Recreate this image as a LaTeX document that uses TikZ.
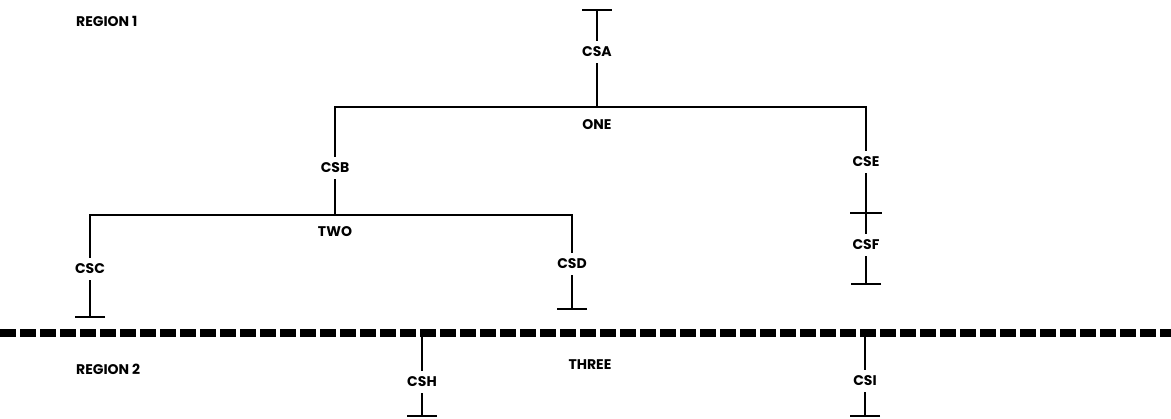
\documentclass[tikz,border=0pt]{standalone}
\usepackage{fontspec}
\setmainfont{Poppins}
\usetikzlibrary{arrows.meta,positioning}

\begin{document}
\begin{tikzpicture}[
    x=1pt,y=-1pt,
    lbl/.style={font=\bfseries\fontsize{14}{16}\selectfont,inner xsep=2pt,inner ysep=6pt,text height=10pt,text depth=0pt},
    wire/.style={line width=1.8pt},
    tee/.style={wire,-{Bar[width=30pt]}},
    bus/.style={line width=8.5pt,dash pattern=on 16pt off 4pt}
]
\useasboundingbox (0,0) rectangle (1171,419);

\node[lbl,anchor=west] (reg1) at (74,22) {REGION 1};
\node[lbl,anchor=west] (reg2) at (74,370) {REGION 2};

\node[lbl] (csa) at (597,52) {CSA};
\node[lbl] (one) at (597,125) {ONE};
\node[lbl] (csb) at (335,168) {CSB};
\node[lbl] (cse) at (866,162) {CSE};
\node[lbl] (two) at (335,232) {TWO};
\node[lbl] (csc) at (90,269) {CSC};
\node[lbl] (csd) at (572,264) {CSD};
\node[lbl] (csf) at (866,245) {CSF};
\node[lbl] (three) at (590,365) {THREE};
\node[lbl] (csh) at (422,382) {CSH};
\node[lbl] (csi) at (865,381) {CSI};

\coordinate (topA) at (597,9);
\coordinate (busone) at (597,107);
\coordinate (bustwo) at (335,215);
\coordinate (crossE) at (866,213);
\coordinate (endC) at (90,318);
\coordinate (endD) at (572,310);
\coordinate (endF) at (866,285);
\coordinate (endH) at (422,417);
\coordinate (endI) at (865,417);
\coordinate (tapH) at (422,333);
\coordinate (tapI) at (865,333);
\coordinate (busL) at (0,333);
\coordinate (busR) at (1171,333);

\draw[tee] (csa) -- (topA);
\draw[wire] (csa) -- (busone);
\draw[wire] (csb) |- (busone) -| (cse);
\draw[wire] (csb) -- (bustwo);
\draw[wire] (csc) |- (bustwo) -| (csd);
\draw[tee] (csc) -- (endC);
\draw[tee] (csd) -- (endD);
\draw[wire] (cse) -- (csf);
\draw[wire] ([xshift=-16pt]crossE) -- ([xshift=16pt]crossE);
\draw[tee] (csf) -- (endF);
\draw[wire] (tapH) -- (csh);
\draw[tee] (csh) -- (endH);
\draw[wire] (tapI) -- (csi);
\draw[tee] (csi) -- (endI);
\draw[bus] (busL) -- (busR);
\end{tikzpicture}
\end{document}
